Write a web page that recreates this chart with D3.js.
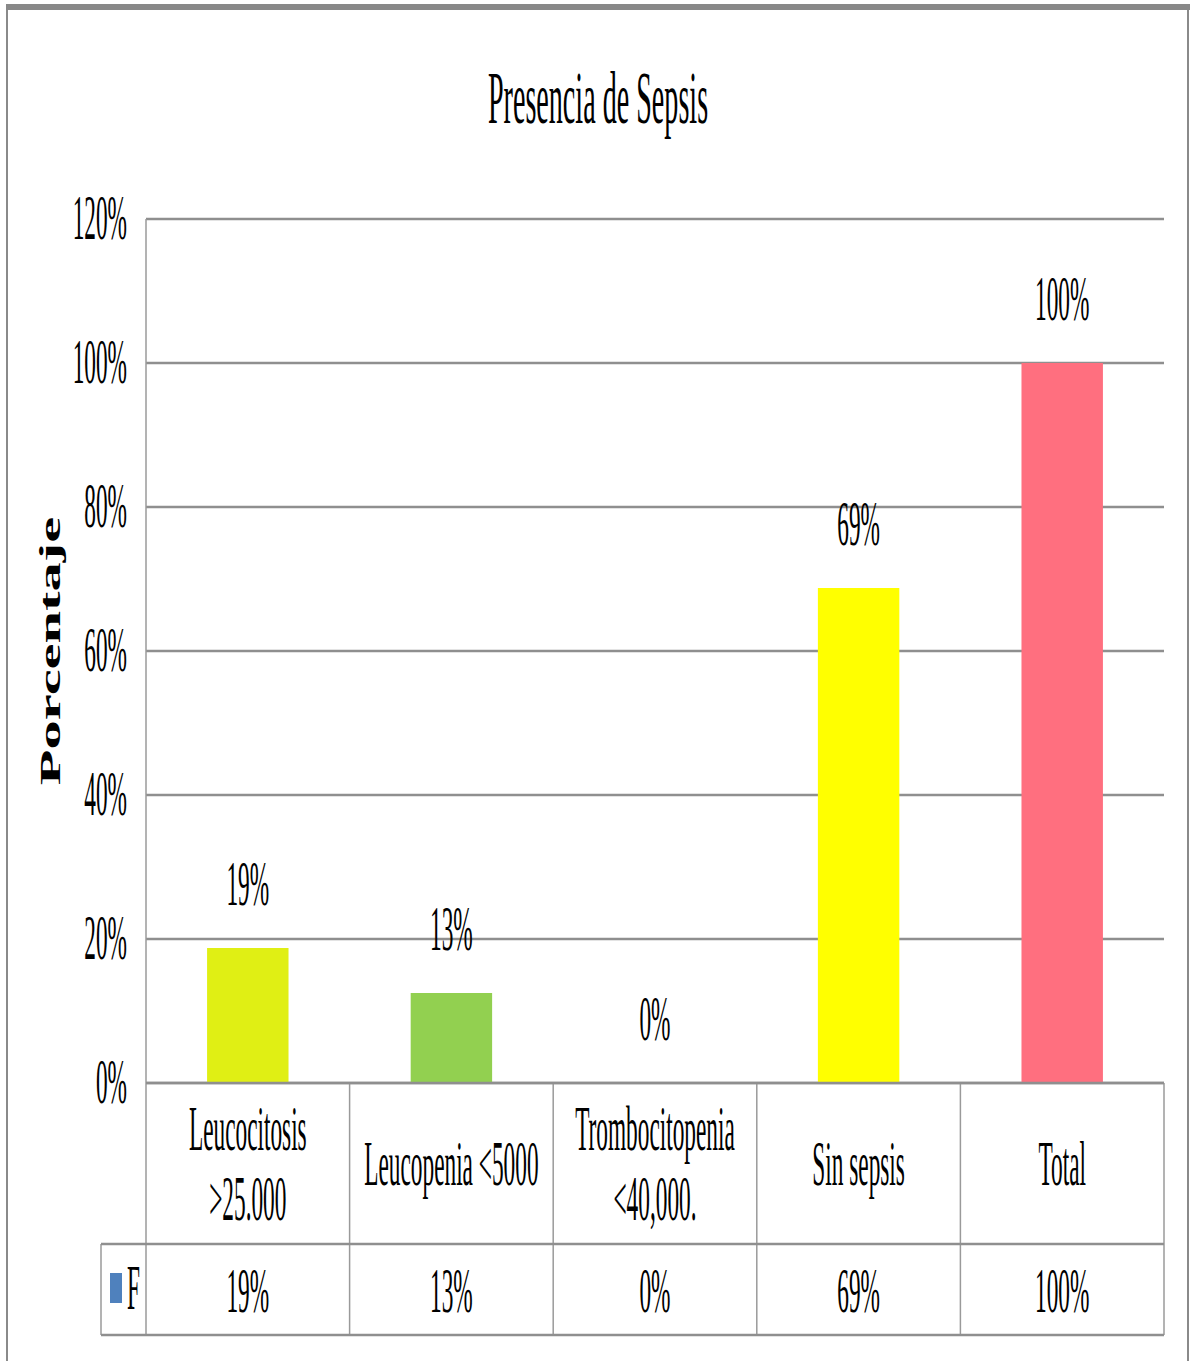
<!DOCTYPE html>
<html>
<head>
<meta charset="utf-8">
<script src="https://cdn.jsdelivr.net/npm/d3@7"></script>
<style>
  html, body { margin: 0; padding: 0; background: #fff; }
  svg { display: block; }
  text { font-family: "Liberation Serif", "Times New Roman", serif; fill: #000; }
</style>
</head>
<body>
<svg id="chart" width="1195" height="1361"></svg>
<script>
// ---- data ----
const title = "Presencia de Sepsis";
const yAxisTitle = "Porcentaje";
const categories = [
  ["Leucocitosis", ">25.000"],
  ["Leucopenia <5000"],
  ["Trombocitopenia", "<40,000."],
  ["Sin sepsis"],
  ["Total"]
];
const values = [0.1875, 0.125, 0, 0.6875, 1.0];
const valueLabels = ["19%", "13%", "0%", "69%", "100%"];
const barColors = ["#E0EF14", "#92D050", "#FFFF00", "#FFFF00", "#FF6F7F"];
const tickValues = [0, 0.2, 0.4, 0.6, 0.8, 1.0, 1.2];
const tickLabels = ["0%", "20%", "40%", "60%", "80%", "100%", "120%"];
const seriesName = "F";
const seriesColor = "#4F81BD";

// ---- layout ----
const svg = d3.select("#chart");
const plotLeft = 146, plotRight = 1164, plotTop = 219, plotBottom = 1083;
const row1Bottom = 1244, row2Bottom = 1335, legendLeft = 101;
const gridColor = "#8f8f8f", tableColor = "#9a9a9a";
const FS = 63, SX = 0.37;

const x = d3.scaleBand().domain(d3.range(categories.length))
  .range([plotLeft, plotRight]).paddingInner(0.6).paddingOuter(0.3);
const xCol = d3.scaleBand().domain(d3.range(categories.length))
  .range([plotLeft, plotRight]).padding(0);
const y = d3.scaleLinear().domain([0, 1.2]).range([plotBottom, plotTop]);

function condText(g, str, px, py, opts = {}) {
  const t = g.append("text")
    .attr("transform", `translate(${px},${py}) scale(${opts.sx || SX},1)`)
    .attr("text-anchor", opts.anchor || "middle")
    .attr("font-size", opts.fs || FS)
    .text(str);
  if (opts.weight) t.attr("font-weight", opts.weight);
  return t;
}

// outer frame
svg.append("line").attr("x1", 7).attr("x2", 7).attr("y1", 4).attr("y2", 1361)
  .attr("stroke", "#8a8a8a").attr("stroke-width", 2);
svg.append("line").attr("x1", 1188).attr("x2", 1188).attr("y1", 4).attr("y2", 1361)
  .attr("stroke", "#8a8a8a").attr("stroke-width", 2);
svg.append("line").attr("x1", 6).attr("x2", 1190).attr("y1", 7).attr("y2", 7)
  .attr("stroke", "#888").attr("stroke-width", 6);

// title
condText(svg, title, 598, 123, { fs: 75, sx: 0.375 });

// gridlines
const grid = svg.append("g");
grid.selectAll("line").data(tickValues).join("line")
  .attr("x1", plotLeft).attr("x2", plotRight)
  .attr("y1", d => y(d)).attr("y2", d => y(d))
  .attr("stroke", gridColor).attr("stroke-width", 2.5);

// y axis with d3.axisLeft (labels customised)
const yAxis = d3.axisLeft(y).tickValues(tickValues).tickSize(0).tickFormat("");
const yg = svg.append("g").attr("transform", `translate(${plotLeft},0)`).call(yAxis);
yg.select(".domain").remove();
tickValues.forEach((v, i) => {
  condText(svg, tickLabels[i], 127, y(v) + 20, { anchor: "end" });
});

// y axis title
svg.append("text")
  .attr("transform", "translate(60,651) rotate(-90) scale(1.95,1)")
  .attr("text-anchor", "middle")
  .attr("font-size", 30)
  .attr("font-weight", "bold")
  .text(yAxisTitle);

// bars
svg.append("g").selectAll("rect").data(values).join("rect")
  .attr("x", (d, i) => x(i))
  .attr("width", x.bandwidth())
  .attr("y", d => y(d))
  .attr("height", d => y(0) - y(d))
  .attr("fill", (d, i) => barColors[i]);

// data labels
values.forEach((v, i) => {
  condText(svg, valueLabels[i], x(i) + x.bandwidth() / 2, y(v) - 43);
});

// axis line (left) through table
svg.append("line").attr("x1", plotLeft).attr("x2", plotLeft)
  .attr("y1", plotTop).attr("y2", row2Bottom)
  .attr("stroke", tableColor).attr("stroke-width", 1.5);

// table lines
const tbl = svg.append("g");
tbl.selectAll("line.v").data(d3.range(1, categories.length + 1)).join("line")
  .attr("class", "v")
  .attr("x1", i => xCol(i - 1) + xCol.bandwidth()).attr("x2", i => xCol(i - 1) + xCol.bandwidth())
  .attr("y1", plotBottom).attr("y2", row2Bottom)
  .attr("stroke", tableColor).attr("stroke-width", 1.5);
tbl.append("line").attr("x1", legendLeft).attr("x2", legendLeft)
  .attr("y1", row1Bottom).attr("y2", row2Bottom)
  .attr("stroke", tableColor).attr("stroke-width", 1.5);
[[plotLeft, plotBottom], [legendLeft, row1Bottom], [legendLeft, row2Bottom]].forEach(([x0, yy]) => {
  tbl.append("line").attr("x1", x0).attr("x2", plotRight).attr("y1", yy).attr("y2", yy)
    .attr("stroke", gridColor).attr("stroke-width", 2.5);
});

// category labels
categories.forEach((lines, i) => {
  const cx = xCol(i) + xCol.bandwidth() / 2;
  lines.forEach((ln, j) => {
    condText(svg, ln, cx, 1185 + (j - (lines.length - 1) / 2) * 70);
  });
});

// data row
svg.append("rect").attr("x", 110).attr("y", 1273).attr("width", 12).attr("height", 30)
  .attr("fill", seriesColor);
condText(svg, seriesName, 127, 1309, { anchor: "start" });
valueLabels.forEach((lab, i) => {
  condText(svg, lab, xCol(i) + xCol.bandwidth() / 2, 1312);
});
</script>
</body>
</html>
